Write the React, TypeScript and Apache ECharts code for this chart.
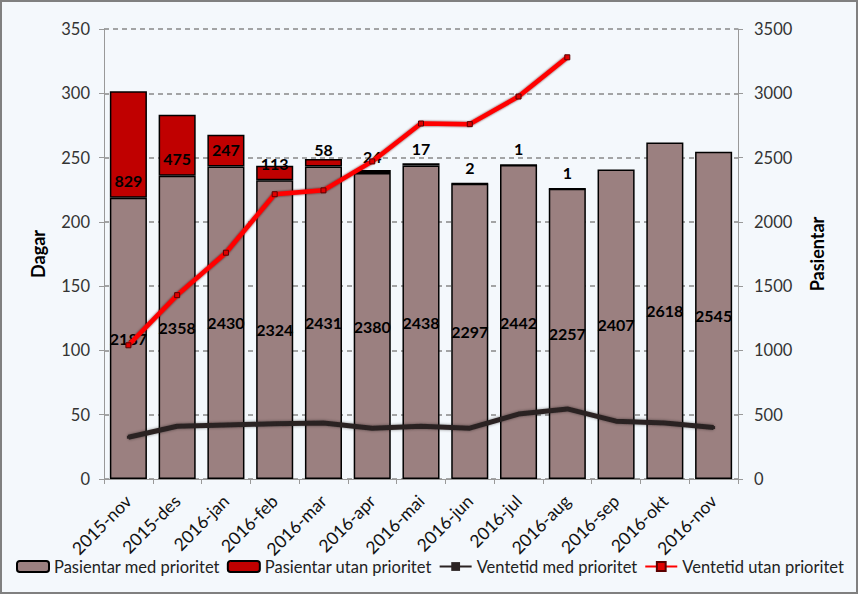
import React, { useEffect, useRef } from "react";
import * as echarts from "echarts";

const categories = [
  "2015-nov", "2015-des", "2016-jan", "2016-feb", "2016-mar", "2016-apr", "2016-mai",
  "2016-jun", "2016-jul", "2016-aug", "2016-sep", "2016-okt", "2016-nov",
];
const pasientarMed = [2187, 2358, 2430, 2324, 2431, 2380, 2438, 2297, 2442, 2257, 2407, 2618, 2545];
const pasientarUtan: (number | null)[] = [829, 475, 247, 113, 58, 24, 17, 2, 1, 1, null, null, null];
const ventetidMed = [32.5, 41, 42, 43, 43.5, 39.5, 41, 39.5, 50.5, 54.5, 45, 43.5, 40];
const ventetidUtan: (number | null)[] = [104, 143, 176, 221.5, 224.5, 247, 276.5, 276, 297.5, 328, null, null, null];

const FONT = "Lato, 'Liberation Sans', sans-serif";

export default function App() {
  const ref = useRef<HTMLDivElement>(null);
  useEffect(() => {
    if (!ref.current) return;
    const chart = echarts.init(ref.current, null, { renderer: "svg" });
    chart.setOption({
      animation: false,
      backgroundColor: "#F4F8FC",
      textStyle: { fontFamily: FONT },
      grid: { left: 102, right: 118, top: 27, bottom: 113 },
      legend: {
        left: 14,
        top: 556,
        width: 850,
        padding: 0,
        itemWidth: 32,
        itemHeight: 11,
        itemGap: 7,
        textStyle: { fontSize: 16.5, color: "#222", fontFamily: FONT },
        data: [
          "Pasientar med prioritet",
          "Pasientar utan prioritet",
          "Ventetid med prioritet",
          "Ventetid utan prioritet",
        ],
      },
      xAxis: {
        type: "category",
        data: categories,
        axisLine: { lineStyle: { color: "#999", width: 1 } },
        axisTick: { show: true, length: 5, lineStyle: { color: "#999" } },
        axisLabel: { rotate: 45, fontSize: 17.5, color: "#111", margin: 19, fontFamily: FONT },
      },
      yAxis: [
        {
          type: "value",
          min: 0,
          max: 350,
          interval: 50,
          name: "Dagar",
          nameLocation: "middle",
          nameRotate: 90,
          nameGap: 57,
          nameTextStyle: { fontSize: 18, fontWeight: "bold", color: "#000", fontFamily: FONT },
          axisLine: { show: true, lineStyle: { color: "#999" } },
          axisTick: { show: true, length: 5, lineStyle: { color: "#999" } },
          axisLabel: { fontSize: 16.5, color: "#333", margin: 14, fontFamily: FONT },
          splitLine: { show: true, lineStyle: { color: "#888", type: [5, 4], width: 1.5 } },
        },
        {
          type: "value",
          min: 0,
          max: 3500,
          interval: 500,
          name: "Pasientar",
          nameLocation: "middle",
          nameRotate: 90,
          nameGap: 70,
          nameTextStyle: { fontSize: 18, fontWeight: "bold", color: "#000", fontFamily: FONT },
          axisLine: { show: true, lineStyle: { color: "#999" } },
          axisTick: { show: true, length: 5, lineStyle: { color: "#999" } },
          axisLabel: {
            fontSize: 16.5,
            color: "#333",
            margin: 16,
            fontFamily: FONT,
            formatter: (v: number) => String(v),
          },
          splitLine: { show: false },
        },
      ],
      series: [
        {
          name: "Pasientar med prioritet",
          type: "bar",
          stack: "p",
          yAxisIndex: 1,
          barCategoryGap: "24%",
          data: pasientarMed,
          itemStyle: { color: "#9B8080", borderColor: "#000", borderWidth: 1.5 },
          label: {
            show: true,
            position: "inside",
            fontSize: 16,
            fontWeight: "bold",
            color: "#000",
            fontFamily: FONT,
          },
          z: 2,
        },
        {
          name: "Pasientar utan prioritet",
          type: "bar",
          stack: "p",
          yAxisIndex: 1,
          data: pasientarUtan,
          itemStyle: { color: "#C00000", borderColor: "#000", borderWidth: 1.5 },
          label: {
            show: true,
            position: "insideBottom",
            distance: 9,
            fontSize: 16,
            fontWeight: "bold",
            color: "#000",
            fontFamily: FONT,
          },
          z: 2,
        },
        {
          name: "Ventetid med prioritet",
          type: "line",
          yAxisIndex: 0,
          data: ventetidMed,
          symbol: "rect",
          symbolSize: 3,
          showSymbol: true,
          lineStyle: {
            color: "#2B2323",
            width: 5,
            shadowColor: "rgba(0,0,0,0.45)",
            shadowBlur: 3,
          },
          itemStyle: { color: "#2B2323" },
          z: 5,
        },
        {
          name: "Ventetid utan prioritet",
          type: "line",
          yAxisIndex: 0,
          data: ventetidUtan,
          symbol: "rect",
          symbolSize: 5,
          showSymbol: true,
          lineStyle: {
            color: "#FF0000",
            width: 4.5,
            shadowColor: "rgba(80,0,0,0.85)",
            shadowBlur: 2,
          },
          itemStyle: { color: "#E00000", borderColor: "#5A0000", borderWidth: 1 },
          z: 6,
        },
      ],
    });
    return () => chart.dispose();
  }, []);
  return (
    <div
      style={{
        position: "fixed",
        left: 0,
        top: 0,
        width: 858,
        height: 594,
        boxSizing: "border-box",
        border: "2px solid #808080",
        background: "#F4F8FC",
      }}
    >
      <div ref={ref} style={{ width: 854, height: 590 }} />
    </div>
  );
}
